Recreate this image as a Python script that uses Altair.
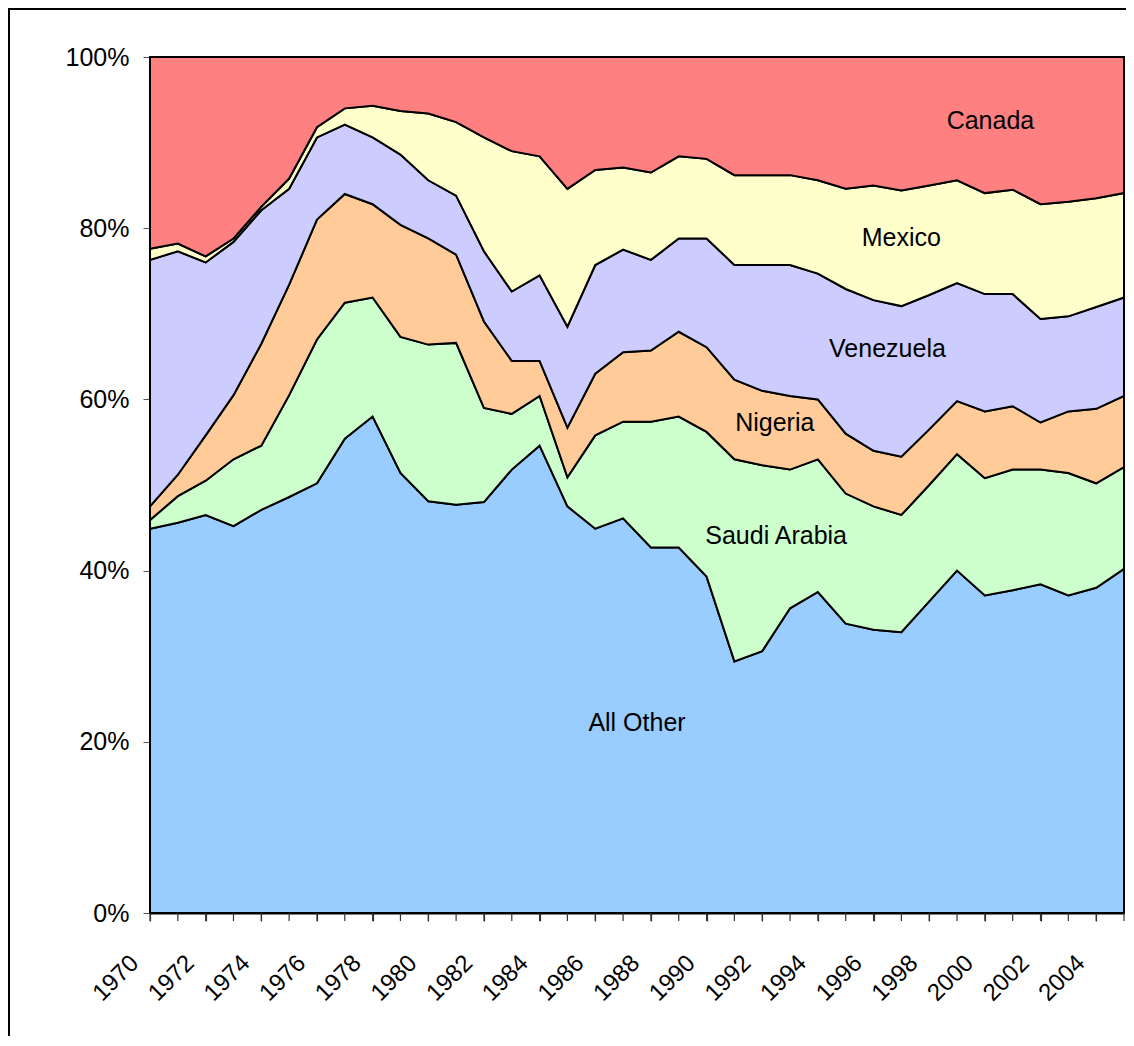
import altair as alt
import pandas as pd

years = list(range(1970, 2006))
series = ["All Other", "Saudi Arabia", "Nigeria", "Venezuela", "Mexico", "Canada"]
colors = ["#99CCFF", "#CCFFCC", "#FFCC99", "#CCCCFF", "#FFFFCC", "#FF8080"]

all_other = [44.9, 45.6, 46.5, 45.2, 47.1, 48.6, 50.2, 55.4, 58.0, 51.4, 48.1, 47.7,
             48.0, 51.8, 54.6, 47.5, 44.9, 46.1, 42.7, 42.7, 39.3, 29.4, 30.6, 35.6,
             37.5, 33.8, 33.1, 32.8, 36.4, 40.0, 37.1, 37.7, 38.4, 37.1, 38.0, 40.2]
saudi = [1.0, 3.1, 4.0, 7.8, 7.5, 11.9, 16.8, 15.9, 13.9, 15.9, 18.3, 18.9,
         11.0, 6.5, 5.8, 3.4, 10.9, 11.3, 14.7, 15.3, 16.9, 23.6, 21.7, 16.2,
         15.5, 15.2, 14.4, 13.7, 13.6, 13.6, 13.7, 14.1, 13.4, 14.3, 12.2, 11.9]
nigeria = [1.6, 2.5, 5.3, 7.5, 11.9, 12.9, 14.0, 12.7, 10.9, 13.1, 12.4, 10.3,
           10.1, 6.2, 4.1, 5.8, 7.2, 8.1, 8.3, 9.9, 9.9, 9.3, 8.7, 8.6,
           7.0, 7.0, 6.5, 6.8, 6.5, 6.2, 7.8, 7.4, 5.5, 7.2, 8.7, 8.3]
venezuela = [28.8, 26.1, 20.2, 17.9, 15.6, 11.2, 9.6, 8.1, 7.8, 8.2, 6.8, 6.9,
             8.2, 8.1, 10.0, 11.8, 12.7, 12.0, 10.6, 10.9, 12.7, 13.4, 14.7, 15.3,
             14.7, 16.9, 17.6, 17.6, 15.7, 13.8, 13.7, 13.1, 12.1, 11.1, 11.9, 11.5]
mexico = [1.3, 0.9, 0.7, 0.4, 0.4, 1.2, 1.2, 1.9, 3.7, 5.1, 7.8, 8.6,
          13.3, 16.4, 13.9, 16.1, 11.1, 9.6, 10.2, 9.6, 9.3, 10.5, 10.5, 10.5,
          10.9, 11.7, 13.4, 13.5, 12.8, 12.0, 11.8, 12.2, 13.4, 13.4, 12.7, 12.2]
canada = [22.4, 21.8, 23.3, 21.2, 17.5, 14.2, 8.2, 6.0, 5.7, 6.3, 6.6, 7.6,
          9.4, 11.0, 11.6, 15.4, 13.2, 12.9, 13.5, 11.6, 11.9, 13.8, 13.8, 13.8,
          14.4, 15.4, 15.0, 15.6, 15.0, 14.4, 15.9, 15.5, 17.2, 16.9, 16.5, 15.9]

# in-chart series labels (position given in data units: year, share of total)
label_text = ["Canada", "Mexico", "Venezuela", "Nigeria", "Saudi Arabia", "All Other"]
label_year = [2000.2, 1997.0, 1996.5, 1992.45, 1992.5, 1987.5]
label_frac = [0.925, 0.789, 0.659, 0.573, 0.4405, 0.2225]

y_ticks = [0, 0.2, 0.4, 0.6, 0.8, 1.0]

FONT = "Liberation Sans, Arial, sans-serif"

values = [all_other, saudi, nigeria, venezuela, mexico, canada]
rows = []
for idx, (name, vals) in enumerate(zip(series, values)):
    for yr, v in zip(years, vals):
        rows.append({"year": yr, "series": name, "share": v, "idx": idx})
df = pd.DataFrame(rows)

labels_df = pd.DataFrame({"text": label_text, "year": label_year, "frac": label_frac})
ticks_df = pd.DataFrame({"year": years})

x_scale = alt.Scale(domain=[1970, 2005], nice=False, zero=False)
y_scale = alt.Scale(domain=[0, 1], nice=False)

x_axis = alt.Axis(
    values=years, format="d",
    labelExpr="datum.value % 2 == 0 ? datum.label : ''",
    labelAngle=315, labelAlign="right", labelBaseline="alphabetic",
    labelPadding=43, labelOffset=-10.6, labelFontSize=24, labelFont=FONT,
    labelColor="black", labelOverlap=False, labelFlush=False, labelBound=False,
    tickSize=8, tickColor="#333333", tickWidth=1.2,
    domainColor="black", domainWidth=2, grid=False, title=None,
)
y_axis = alt.Axis(
    values=y_ticks, format=".0%", labelFontSize=25, labelFont=FONT,
    labelColor="black", labelPadding=14, tickSize=7, tickColor="#555555",
    domainColor="black", domainWidth=1.5, grid=False, title=None,
)

areas = alt.Chart(df).mark_area(
    stroke="black", strokeWidth=2, interpolate="linear", opacity=1
).encode(
    x=alt.X("year:Q", scale=x_scale, axis=x_axis),
    y=alt.Y("share:Q", stack="normalize", scale=y_scale, axis=y_axis),
    color=alt.Color("series:N", scale=alt.Scale(domain=series, range=colors), legend=None),
    order=alt.Order("idx:Q", sort="ascending"),
)

# one small tick below the category axis for every year
year_ticks = alt.Chart(ticks_df).mark_rule(color="#333333", strokeWidth=1.2).encode(
    x=alt.X("year:Q", scale=x_scale),
    y=alt.value(856), y2=alt.value(864),
)

texts = alt.Chart(labels_df).mark_text(
    font=FONT, fontSize=25, color="black", align="center", baseline="middle"
).encode(
    x=alt.X("year:Q", scale=x_scale),
    y=alt.Y("frac:Q", scale=y_scale),
    text="text:N",
)

frame = alt.Chart(pd.DataFrame({"k": [0]})).mark_rect(
    fill="white", fillOpacity=0, stroke="black", strokeWidth=2
).encode(
    x=alt.value(-141), x2=alt.value(1020),
    y=alt.value(-48), y2=alt.value(1000),
)

chart = alt.layer(frame, areas, year_ticks, texts).properties(
    width=974, height=856,
    autosize=alt.AutoSizeParams(type="none"),
    padding={"left": 142, "top": 49, "right": 2, "bottom": 123},
    background="white",
).configure_view(stroke=None)

chart.save("out.html", embed_options={"renderer": "svg", "actions": False})
